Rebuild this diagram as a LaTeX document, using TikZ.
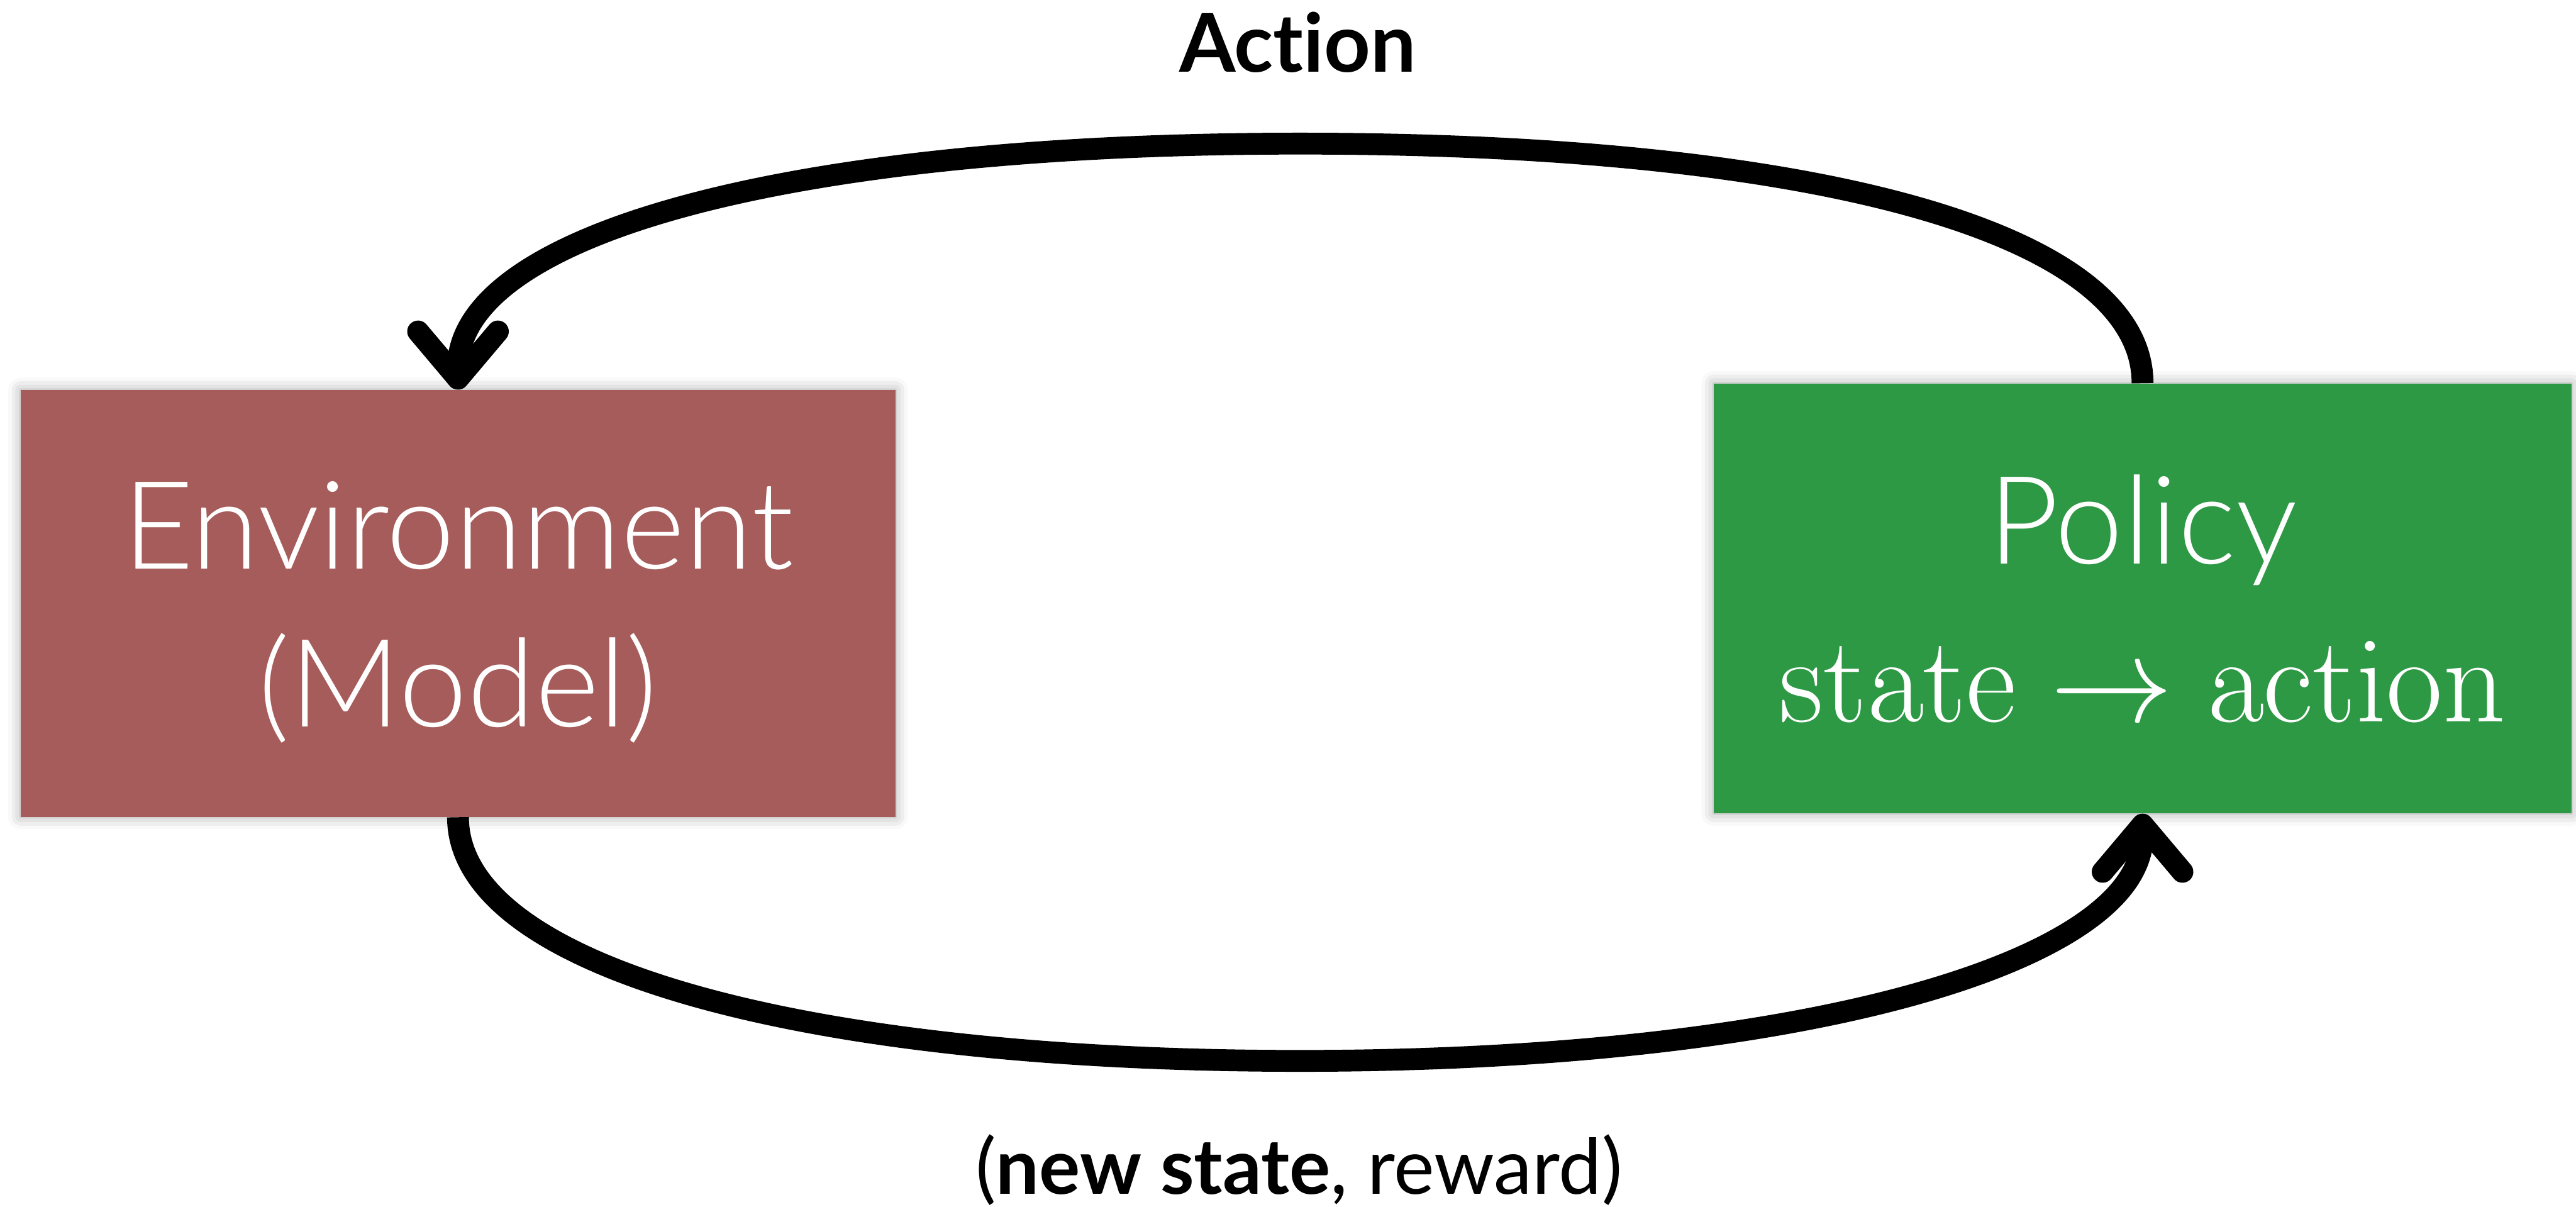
\RequirePackage{fix-cm}
\documentclass[tikz,border=0pt]{standalone}
\usepackage{amsmath}
\usepackage[no-math]{fontspec}
\setmainfont{Lato}[Ligatures={NoCommon,NoRare}]
\newfontfamily\boxfont{Lato Light}[Ligatures={NoCommon,NoRare}]
\usepackage{tikz}
\usetikzlibrary{arrows.meta,shadows.blur}
\definecolor{envred}{RGB}{165,92,90}
\definecolor{polgreen}{RGB}{46,153,69}
\tikzset{
  box/.style={rectangle, inner sep=0pt, text=white, align=center,
    font=\boxfont\fontsize{59}{76}\selectfont,
    blur shadow={shadow xshift=0pt, shadow yshift=0pt,
      shadow blur radius=6pt, shadow opacity=35}},
  flow/.style={line width=10.5pt,
    -{Straight Barb[length=0.8cm,width=1.35cm,round]}},
}

\begin{document}
\begin{tikzpicture}
\useasboundingbox (0,0) rectangle (43.59,-20.42);
%
\node[box, fill=envred, minimum width=14.8cm, minimum height=7.22cm]
  (env) at (7.75,-10.21) {\\[-0.9cm]Environment\\(Model)};
\node[box, fill=polgreen, minimum width=14.51cm, minimum height=7.27cm]
  (policy) at (36.255,-10.125)
  {Policy\\{\fontsize{59}{76}\selectfont$\mathrm{state}\to\mathrm{action}$}};
%
\coordinate (acttop) at (22.0,-2.43);
\coordinate (rewbot) at (22.0,-17.95);
%
\draw[flow] (policy.north) .. controls +(0,2.52) and +(8.84,0) .. (acttop)
  .. controls +(-8.84,0) and +(0,2.59) .. (env.north);
\draw[flow] (env.south) .. controls +(0,-2.5) and +(-8.55,0) .. (rewbot)
  .. controls +(8.55,0) and +(0,-2.5) .. (policy.south);
%
\node[anchor=base, font=\fontsize{39}{47}\selectfont]
  (act) at (21.96,-1.22) {\textbf{Action}};
\node[anchor=base, font=\fontsize{37}{44}\selectfont]
  (rew) at (21.98,-20.2) {(\textbf{new state}, reward)};
\end{tikzpicture}
\end{document}
